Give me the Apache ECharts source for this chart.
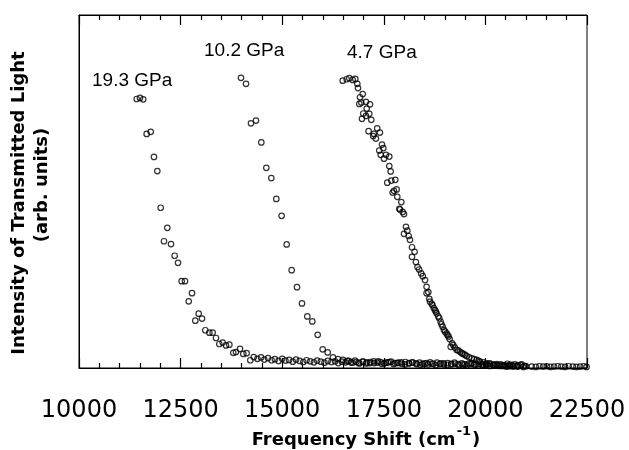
<!DOCTYPE html>
<html><head><meta charset="utf-8">
<script src="https://cdn.jsdelivr.net/npm/echarts@6/dist/echarts.min.js"></script>
<style>html,body{margin:0;padding:0;background:#fff}#c{width:629px;height:450px}</style>
</head><body><div id="c"></div>
<script>
const xTicks = [10000, 12500, 15000, 17500, 20000, 22500];
const yRange = [0, 100];
const pressureLabels = ['19.3 GPa', '10.2 GPa', '4.7 GPa'];
const xTitle = 'Frequency Shift (cm';
const xTitleSup = '-1';
const yTitle1 = 'Intensity of Transmitted Light';
const yTitle2 = '(arb. units)';

const p193 = [
 [11420,76.2],[11500,76.5],[11580,76.1],[11665,66.3],[11765,66.9],[11845,59.8],[11927,55.8],[12010,45.4],
 [12091,35.9],[12173,39.7],[12264,35.1],[12354,31.8],[12436,29.8],[12526,24.6],[12608,24.6],[12699,18.9],
 [12781,21.2],[12862,13.4],[12945,15.4],[13027,14.0],[13108,10.7],[13207,10.0],[13289,10.0],[13371,8.5],
 [13453,6.8],[13535,7.2],[13617,6.4],[13699,6.6],[13797,4.3],[13863,4.5],[13962,5.4],[14043,4.0],
 [14125,4.2],[14215,2.2],
 [14300,3.1],[14390,2.6],[14480,3.0],[14560,2.4],[14650,2.8],[14740,2.2],[14820,2.5],[14910,2.0],
 [15000,2.6],[15080,2.1],[15170,2.3],[15260,1.8],[15340,2.4],[15430,2.0],[15520,1.7],[15600,2.2],
 [15690,1.9],[15780,1.6],[15860,2.1],[15950,1.8],[16040,1.5],[16120,2.0],[16210,1.7],[16300,1.9],
 [16380,1.4],[16470,1.8],[16560,1.6],[16640,2.0],[16730,1.5],[16820,1.7],[16900,1.3],[16990,1.8],
 [17080,1.6],[17160,1.4],[17250,1.9],[17340,1.5],[17420,1.7],[17510,1.3],[17600,1.6],[17680,1.8],
 [17770,1.4],[17860,1.5],[17940,1.2],[18030,1.7],[18120,1.4],[18200,1.6],[18290,1.3],[18380,1.5],
 [18460,1.1],[18550,1.4],[18640,1.6],[18720,1.2],[18810,1.5],[18900,1.3],[18980,1.0],[19070,1.4],
 [19160,1.2],[19240,1.5],[19330,1.1],[19420,1.3],[19500,1.0],[19590,1.2],[19680,1.4],[19760,1.0],
 [19850,1.2],[19940,0.9],[20020,1.1],[20110,1.3],[20200,0.9],[20280,1.1],[20370,1.0],[20460,0.8],
 [20540,1.2],[20630,0.9],[20720,1.0],[20800,0.8],[20890,1.0]
];

const p102 = [
 [13986,82.2],[14109,80.5],[14232,69.3],[14355,70.1],[14486,63.9],[14609,56.7],[14732,53.8],[14855,47.9],
 [14986,43.1],[15110,35.0],[15233,27.7],[15364,22.9],[15487,18.3],[15618,14.6],[15741,13.2],[15873,9.4],
 [15996,5.3],[16119,4.4],[16250,3.0],[16373,2.5],[16496,2.3],
 [16600,2.0],[16690,1.6],[16790,2.1],[16880,1.5],[16980,1.8],[17070,1.3],[17170,1.7],[17260,1.4],
 [17360,1.9],[17450,1.2],[17550,1.5],[17640,1.7],[17740,1.1],[17830,1.4],[17930,1.6],[18020,1.0],
 [18120,1.3],[18210,1.5],[18310,1.1],[18400,0.9],[18500,1.3],[18590,1.0],[18690,1.2],[18780,0.8],
 [18880,1.1],[18970,1.3],[19070,0.9],[19160,1.0],[19260,1.2],[19350,0.8],[19450,1.0],[19540,0.7],
 [19640,1.1],[19730,0.9],[19830,0.7],[19920,1.0],[20020,0.8],[20110,0.6],[20210,0.9],[20300,0.7],
 [20400,0.8],[20490,0.6],[20590,0.9],[20680,0.7],[20780,0.5],[20870,0.8],[20970,0.6]
];

const p47 = [
 [16489,81.4],[16587,81.8],[16651,82.1],[16735,81.6],[16799,81.9],[16848,80.5],[16865,79.3],
 [16981,77.6],[16915,76.7],[17062,75.4],[17160,74.7],[16898,74.8],[16948,75.2],
 [17079,73.5],[16995,72.1],[17143,72.0],[16963,70.6],[17192,70.3],[17062,71.4],
 [17126,67.1],[17239,65.7],[17338,67.9],[17404,66.7],[17306,65.0],[17257,66.3],
 [17456,63.3],[17389,61.6],[17488,62.3],[17424,60.4],[17554,60.4],[17635,59.9],[17505,59.3],
 [17635,57.2],[17669,55.7],[17586,52.5],[17685,53.1],[17783,53.3],
 [17751,50.2],[17816,50.6],[17717,49.7],[17832,48.5],
 [17931,47.0],[17882,45.1],[17964,44.2],[17997,43.6],[17899,44.9],
 [18046,40.0],[18078,38.9],[17997,38.0],[18112,37.4],[18144,36.3],[18194,34.2],[18258,32.9],[18194,31.5],
 [18290,30.0],[18330,28.6],[18370,27.9],[18420,26.8],[18460,26.0],[18514,24.9],
 [18553,23.0],[18596,21.5],[18553,21.2],[18620,19.6],[18637,18.8],[18680,18.2],[18700,17.8],[18730,17.0],
 [18760,16.4],[18780,16.0],[18800,15.5],[18840,14.6],[18866,14.1],[18899,13.1],[18920,12.4],[18948,11.7],
 [18981,10.8],[19010,10.3],[19046,9.8],[19070,9.3],[19096,8.9],[19120,8.2],[19146,6.0],[19180,7.0],
 [19210,6.5],[19250,5.8],[19294,5.1],[19330,5.0],[19375,4.6],[19420,4.2],[19456,4.0],[19500,3.7],
 [19540,3.4],[19600,3.0],[19663,2.7],[19720,2.5],[19786,2.3],[19830,2.0],[19867,1.8],[19950,1.6],
 [20032,1.3],[20100,1.1],[20194,0.9],[20270,0.8],[20359,0.6],[20440,0.6],[20524,0.4],[20600,0.5],
 [20686,0.4],[20800,0.4],[20932,0.3],
 [21000,0.5],[21140,0.4],[21240,0.3],[21330,0.5],[21420,0.4],[21510,0.5],[21600,0.3],[21690,0.4],
 [21780,0.5],[21870,0.4],[21960,0.3],[22050,0.5],[22150,0.4],[22240,0.3],[22330,0.4],[22420,0.5],[22490,0.3]
];

const chart = echarts.init(document.getElementById('c'), null, {renderer: 'canvas'});
const ink = '#000';
const circleStyle = {color: 'rgba(255,255,255,0)', borderColor: '#000', borderWidth: 1.2};
const mkSeries = (data) => ({
  type: 'scatter', data, symbol: 'circle', symbolSize: 5.5, itemStyle: circleStyle,
  xAxisIndex: 0, yAxisIndex: 0, silent: true, z: 3
});
const xMin = xTicks[0], xMax = xTicks[xTicks.length - 1], xInt = xTicks[1] - xTicks[0];
const mkX = (pos, showLabel) => ({
  type: 'value', min: xMin, max: xMax, interval: xInt, position: pos,
  axisLine: {show: true, onZero: false, lineStyle: {color: ink, width: 1}},
  axisTick: {show: true, inside: true, length: 10, lineStyle: {color: ink, width: 1.2}},
  minorTick: {show: true, splitNumber: 5, length: 5, lineStyle: {color: ink, width: 1.2}},
  splitLine: {show: false}, minorSplitLine: {show: false},
  axisLabel: showLabel ? {show: true, margin: 31, color: '#000', fontFamily: 'DejaVu Sans', fontSize: 24,
    formatter: (v) => String(v)} : {show: false},
  z: 5
});
chart.setOption({
  animation: false,
  backgroundColor: '#fff',
  grid: {left: 79, right: 42, top: 15, bottom: 82, show: true, borderColor: ink, borderWidth: 1, backgroundColor: 'transparent'},
  xAxis: [mkX('bottom', true), mkX('top', false)],
  yAxis: {type: 'value', min: yRange[0], max: yRange[1], axisLine: {show: true, onZero: false, lineStyle: {color: ink}},
    axisTick: {show: false}, axisLabel: {show: false}, splitLine: {show: false}},
  series: [mkSeries(p193), mkSeries(p102), mkSeries(p47)],
  graphic: [
    {type: 'text', x: 92, y: 81, style: {text: pressureLabels[0], font: '19px "Liberation Sans"', fill: '#000', textAlign: 'left', textVerticalAlign: 'middle', align: 'left', verticalAlign: 'middle'}},
    {type: 'text', x: 204, y: 51, style: {text: pressureLabels[1], font: '19px "Liberation Sans"', fill: '#000', textAlign: 'left', textVerticalAlign: 'middle', align: 'left', verticalAlign: 'middle'}},
    {type: 'text', x: 347, y: 53, style: {text: pressureLabels[2], font: '19px "Liberation Sans"', fill: '#000', textAlign: 'left', textVerticalAlign: 'middle', align: 'left', verticalAlign: 'middle'}},
    {type: 'text', x: 19, y: 203, rotation: Math.PI / 2, style: {text: yTitle1, font: 'bold 18px "DejaVu Sans"', fill: '#000', textAlign: 'center', textVerticalAlign: 'middle', align: 'center', verticalAlign: 'middle'}},
    {type: 'text', x: 42, y: 185, rotation: Math.PI / 2, style: {text: yTitle2, font: 'bold 18px "DejaVu Sans"', fill: '#000', textAlign: 'center', textVerticalAlign: 'middle', align: 'center', verticalAlign: 'middle'}},
    {type: 'text', x: 366, y: 437, style: {
      text: '{a|' + xTitle + '}{s|' + xTitleSup + '}{a|)}',
      textAlign: 'center', textVerticalAlign: 'middle', align: 'center', verticalAlign: 'middle',
      rich: {
        a: {fontFamily: 'DejaVu Sans', fontWeight: 'bold', fontSize: 18, fill: '#000', color: '#000', lineHeight: 24, verticalAlign: 'bottom'},
        s: {fontFamily: 'DejaVu Sans', fontWeight: 'bold', fontSize: 13, fill: '#000', color: '#000', lineHeight: 24, verticalAlign: 'top', padding: [0, 1, 0, 1]}
      }
    }}
  ]
});
</script></body></html>
